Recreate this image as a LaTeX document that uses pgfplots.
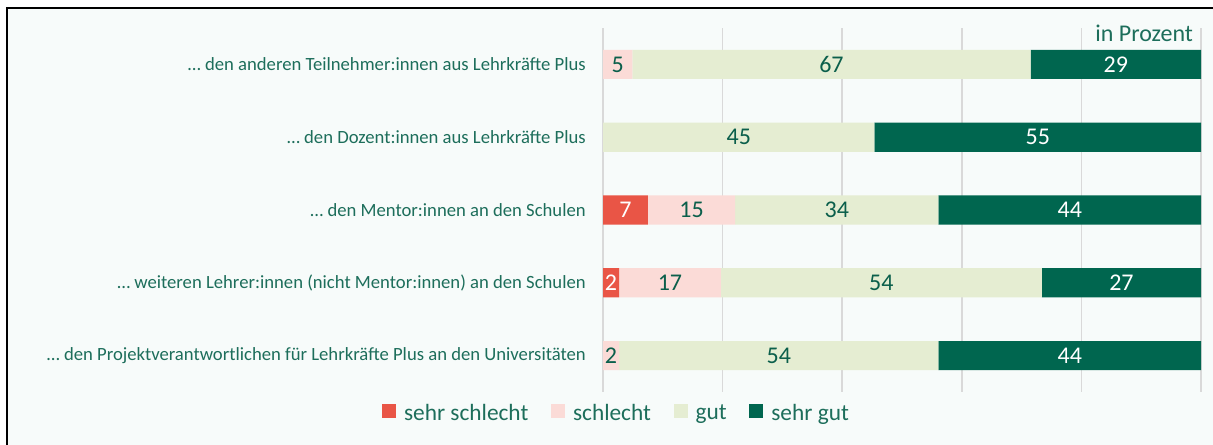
\documentclass[border=0pt]{standalone}
\usepackage{fontspec}
\setmainfont{Carlito}
\usepackage{pgfplots}
\pgfplotsset{compat=1.18}

\definecolor{hintergrund}{HTML}{F7FBFA}
\definecolor{sehrschlecht}{HTML}{E95546}
\definecolor{schlecht}{HTML}{FBDBD7}
\definecolor{gut}{HTML}{E5EDD2}
\definecolor{sehrgut}{HTML}{00664F}
\definecolor{textgruen}{HTML}{1D6E5B}
\definecolor{zahlgruen}{HTML}{0B5F4B}
\definecolor{gitter}{HTML}{D9D9D9}

\pgfplotsset{
  rahmen/.style={
    at={(452.25pt,39.75pt)}, anchor=south west,
    scale only axis, width=448.5pt, height=273pt,
    xmin=0, xmax=100, ymin=-0.5, ymax=4.5, y dir=reverse
  },
  wert/.style={
    draw=none, mark=none, nodes near coords, point meta=explicit symbolic,
    every node near coord/.append style={anchor=center, inner sep=0pt,
      font=\fontsize{18}{21}\selectfont, text=#1}
  }
}

\begin{document}
\begin{tikzpicture}
\path[use as bounding box] (0,0) rectangle (909.75pt,333.75pt);
\fill[hintergrund] (5.25pt,-5pt) rectangle (915pt,327.75pt);
\draw[line width=1.2pt] (5.25pt,-5pt) -- (5.25pt,327.75pt) -- (915pt,327.75pt);

\begin{axis}[
  rahmen,
  xbar stacked, bar width=0.4,
  axis line style={draw=none},
  xtick={0,20,...,100}, xticklabels={},
  xmajorgrids, major grid style={gitter, line width=1.1pt},
  major tick length=0pt,
  ytick={0,...,4},
  yticklabels={
    … den anderen Teilnehmer:innen aus Lehrkräfte Plus,
    … den Dozent:innen aus Lehrkräfte Plus,
    … den Mentor:innen an den Schulen,
    … weiteren Lehrer:innen (nicht Mentor:innen) an den Schulen,
    … den Projektverantwortlichen für Lehrkräfte Plus an den Universitäten},
  yticklabel style={font=\fontsize{14}{16}\selectfont, text=textgruen,
    anchor=east, inner sep=0pt, xshift=-12.75pt},
  legend style={at={(0.023,-0.058)}, anchor=center, draw=none, fill=none,
    legend columns=4, font=\fontsize{17.5}{20}\selectfont, text=textgruen,
    /tikz/every odd column/.append style={column sep=4pt},
    /tikz/every even column/.append style={column sep=15pt}},
  legend image code/.code={\fill[#1] (0pt,-3.5pt) rectangle (10.5pt,7pt);}
]
\addplot[draw=none, fill=sehrschlecht] coordinates {(0,0) (0,1) (7.5,2) (2.7,3) (0,4)};
\addlegendentry{sehr schlecht}
\addplot[draw=none, fill=schlecht] coordinates {(4.9,0) (0,1) (14.6,2) (17.0,3) (2.7,4)};
\addlegendentry{schlecht}
\addplot[draw=none, fill=gut] coordinates {(66.6,0) (45.4,1) (34.0,2) (53.7,3) (53.4,4)};
\addlegendentry{gut}
\addplot[draw=none, fill=sehrgut] coordinates {(28.5,0) (54.6,1) (43.9,2) (26.6,3) (43.9,4)};
\addlegendentry{sehr gut}
\end{axis}

\begin{axis}[rahmen, hide axis, clip=false]
\addplot[wert=white] coordinates {(3.75,2) [7] (1.35,3) [2]};
\addplot[wert=zahlgruen] coordinates {(2.45,0) [5] (14.8,2) [15] (11.2,3) [17] (1.35,4) [2]};
\addplot[wert=zahlgruen] coordinates {(38.2,0) [67] (22.7,1) [45] (39.1,2) [34] (46.55,3) [54] (29.4,4) [54]};
\addplot[wert=white] coordinates {(85.75,0) [29] (72.7,1) [55] (78.05,2) [44] (86.7,3) [27] (78.05,4) [44]};
\node[anchor=base east, font=\fontsize{18}{21}\selectfont, text=textgruen, inner sep=0pt]
  at (axis cs:98.7,-0.308) {in Prozent};
\end{axis}
\end{tikzpicture}
\end{document}
